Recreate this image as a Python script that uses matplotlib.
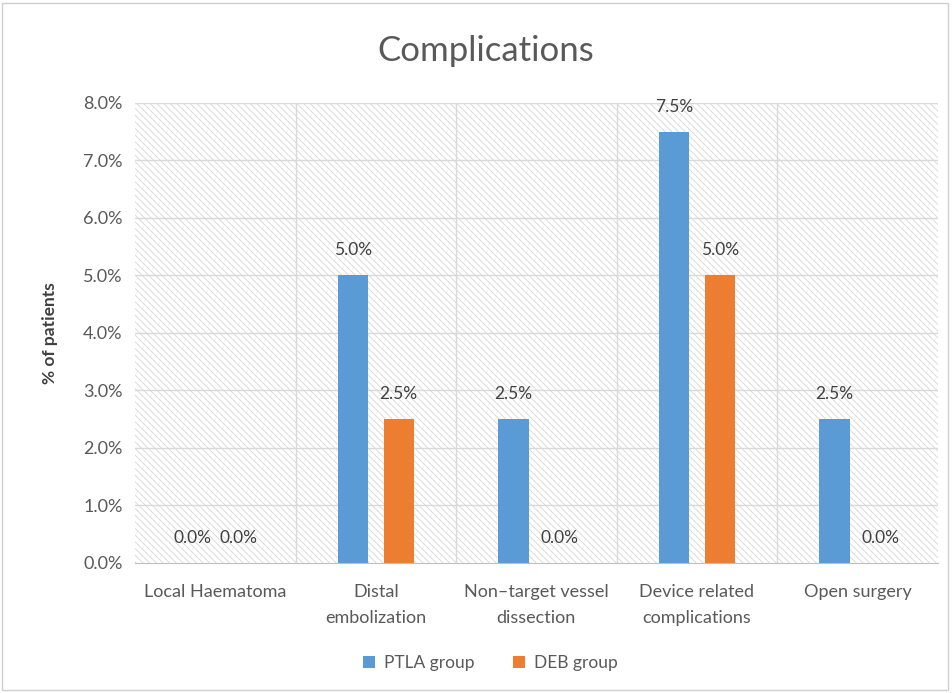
import numpy as np
import matplotlib
matplotlib.use('Agg')
import matplotlib.pyplot as plt
from matplotlib.patches import Rectangle
from matplotlib.ticker import FuncFormatter

plt.rcParams['font.family'] = ['Lato', 'DejaVu Sans']
plt.rcParams['hatch.linewidth'] = 0.6

categories = ['Local Haematoma', 'Distal\nembolization', 'Non\u2013target vessel\ndissection',
              'Device related\ncomplications', 'Open surgery']
ptla = [0.0, 5.0, 2.5, 7.5, 2.5]
deb = [0.0, 2.5, 0.0, 5.0, 0.0]
series_names = ['PTLA group', 'DEB group']

blue = '#5b9bd5'
orange = '#ed7d31'
grid_c = '#d9d9d9'
text_c = '#595959'

fig = plt.figure(figsize=(9.52, 6.93), dpi=100)
ax = fig.add_axes([0.1418, 0.1876, 0.8432, 0.6638])

x = np.arange(len(categories))
w = 0.19
off = 0.143

# hatched background
bg = Rectangle((-0.5, 0), len(categories), 8.0, facecolor='white', edgecolor='#d6d6d6',
               hatch='\\\\\\\\\\', linewidth=0, zorder=0)
ax.add_patch(bg)

b1 = ax.bar(x - off, ptla, w, color=blue, label=series_names[0], zorder=3)
b2 = ax.bar(x + off, deb, w, color=orange, label=series_names[1], zorder=3)

for bars in (b1, b2):
    for r in bars:
        h = r.get_height()
        ax.annotate(f'{h:.1f}%', (r.get_x() + r.get_width() / 2, h),
                    xytext=(0, 18), textcoords='offset points',
                    ha='center', va='center', fontsize=12.5, color='#404040', zorder=4)

ax.set_xlim(-0.5, len(categories) - 0.5)
ax.set_ylim(0, 8.0)
ax.set_yticks(np.arange(0, 8.5, 1.0))
ax.yaxis.set_major_formatter(FuncFormatter(lambda v, p: f'{v:.1f}%'))
ax.set_xticks(x)
ax.set_xticklabels(categories, fontsize=13, color=text_c, linespacing=1.75)
ax.tick_params(axis='y', labelsize=13, labelcolor=text_c, length=0, pad=9)
ax.tick_params(axis='x', length=0, pad=15)

for v in np.arange(1, 8.5, 1.0):
    ax.axhline(v, color=grid_c, lw=1, zorder=1)
for v in np.arange(0.5, len(categories) - 0.5, 1.0):
    ax.axvline(v, color=grid_c, lw=1, zorder=1)

for s in ['top', 'right', 'left']:
    ax.spines[s].set_visible(False)
ax.spines['bottom'].set_color('#bfbfbf')
ax.spines['bottom'].set_zorder(5)

ax.set_ylabel('% of patients', fontsize=12.5, fontweight='bold', color='#404040', labelpad=18)
fig.text(0.51, 0.927, 'Complications', ha='center', va='center', fontsize=25, color=text_c)

leg = fig.legend(handles=[b1, b2], loc='center', bbox_to_anchor=(0.515, 0.043), ncol=2,
                 frameon=False, fontsize=12.5, handlelength=0.7, handleheight=0.7,
                 columnspacing=2.2, handletextpad=0.5)
for t in leg.get_texts():
    t.set_color(text_c)

fig.patches.append(Rectangle((0.002, 0.004), 0.994, 0.992, transform=fig.transFigure,
                             fill=False, edgecolor='#d0d0d0', lw=1))

fig.savefig('out.png', dpi=100)
